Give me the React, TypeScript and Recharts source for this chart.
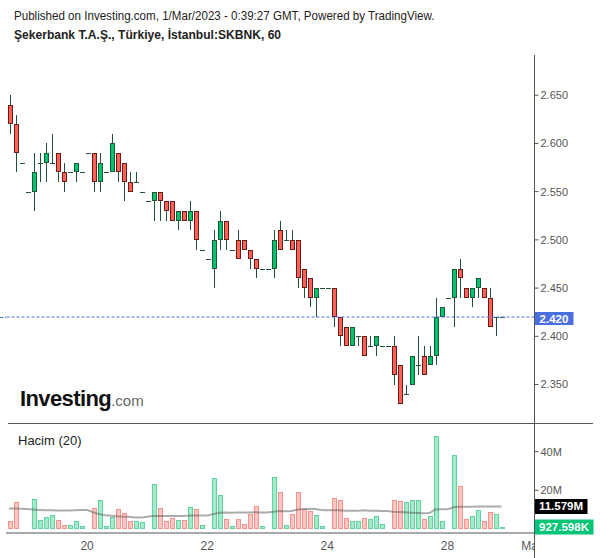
import React from 'react';
import { ComposedChart, Bar, Line, XAxis, YAxis, ReferenceLine } from 'recharts';

const FONT = '"Liberation Sans", Arial, Helvetica, sans-serif';

// Hourly candles (Feb 17 - Feb 28, 2023)
const opens = [
  2.64, 2.62, 2.58, 2.55, 2.55, 2.58, 2.58, 2.58, 2.59, 2.57,
  2.57, 2.57, 2.57, 2.59, 2.59, 2.56, 2.57, 2.57, 2.59, 2.58,
  2.56, 2.56, 2.55, 2.54, 2.54, 2.55, 2.54, 2.54, 2.52, 2.53,
  2.52, 2.53, 2.49, 2.48, 2.47, 2.50, 2.52, 2.49, 2.50, 2.50,
  2.49, 2.48, 2.47, 2.47, 2.47, 2.51, 2.50, 2.50, 2.50, 2.47,
  2.46, 2.44, 2.45, 2.45, 2.45, 2.42, 2.41, 2.39, 2.40, 2.40,
  2.39, 2.39, 2.39, 2.39, 2.39, 2.37, 2.34, 2.35, 2.37, 2.38,
  2.37, 2.38, 2.42, 2.44, 2.44, 2.47, 2.45, 2.44, 2.45, 2.45,
  2.44, 2.42, 2.42,
];
const highs = [
  2.65, 2.63, 2.58, 2.55, 2.59, 2.59, 2.60, 2.61, 2.59, 2.58,
  2.57, 2.58, 2.57, 2.59, 2.59, 2.59, 2.57, 2.61, 2.59, 2.58,
  2.57, 2.57, 2.55, 2.54, 2.55, 2.55, 2.54, 2.54, 2.53, 2.53,
  2.54, 2.53, 2.49, 2.48, 2.51, 2.53, 2.52, 2.49, 2.51, 2.50,
  2.49, 2.48, 2.47, 2.47, 2.51, 2.52, 2.51, 2.51, 2.50, 2.47,
  2.46, 2.45, 2.45, 2.45, 2.45, 2.42, 2.41, 2.41, 2.40, 2.40,
  2.40, 2.40, 2.39, 2.39, 2.40, 2.37, 2.35, 2.38, 2.40, 2.39,
  2.39, 2.44, 2.43, 2.44, 2.47, 2.48, 2.45, 2.45, 2.46, 2.45,
  2.45, 2.42, 2.42,
];
const lows = [
  2.61, 2.57, 2.58, 2.55, 2.53, 2.56, 2.56, 2.58, 2.56, 2.55,
  2.57, 2.56, 2.57, 2.59, 2.55, 2.55, 2.57, 2.57, 2.56, 2.54,
  2.55, 2.56, 2.55, 2.54, 2.52, 2.52, 2.52, 2.52, 2.51, 2.52,
  2.51, 2.49, 2.49, 2.48, 2.45, 2.49, 2.49, 2.49, 2.48, 2.49,
  2.47, 2.46, 2.47, 2.47, 2.46, 2.49, 2.50, 2.49, 2.45, 2.44,
  2.43, 2.42, 2.45, 2.45, 2.41, 2.39, 2.39, 2.39, 2.39, 2.38,
  2.39, 2.38, 2.39, 2.39, 2.35, 2.33, 2.34, 2.35, 2.36, 2.36,
  2.37, 2.37, 2.42, 2.44, 2.41, 2.44, 2.44, 2.43, 2.44, 2.44,
  2.41, 2.40, 2.42,
];
const closes = [
  2.62, 2.59, 2.58, 2.55, 2.57, 2.58, 2.59, 2.58, 2.57, 2.56,
  2.57, 2.58, 2.57, 2.59, 2.56, 2.58, 2.57, 2.60, 2.57, 2.56,
  2.55, 2.56, 2.55, 2.54, 2.55, 2.54, 2.53, 2.52, 2.53, 2.52,
  2.53, 2.50, 2.49, 2.48, 2.50, 2.52, 2.50, 2.49, 2.48, 2.49,
  2.48, 2.47, 2.47, 2.47, 2.50, 2.49, 2.50, 2.49, 2.46, 2.45,
  2.44, 2.45, 2.45, 2.45, 2.42, 2.40, 2.39, 2.41, 2.40, 2.38,
  2.39, 2.40, 2.39, 2.39, 2.36, 2.33, 2.34, 2.38, 2.37, 2.36,
  2.38, 2.42, 2.43, 2.44, 2.47, 2.46, 2.44, 2.45, 2.46, 2.44,
  2.41, 2.42, 2.42,
];
// Volume in millions
const volumes = [
  4.3, 13.7, 0.5, 0.2, 15.7, 4.7, 6.1, 7.3, 4.7, 2.2,
  2.2, 4.3, 1.2, 0.2, 11.0, 15.1, 1.5, 6.1, 10.4, 8.3,
  4.3, 4.3, 3.3, 0.2, 23.5, 11.0, 4.3, 5.4, 4.7, 4.7,
  11.5, 10.4, 2.1, 0.2, 26.6, 17.7, 5.2, 1.5, 5.2, 2.6,
  7.6, 12.0, 1.5, 0.2, 27.1, 19.0, 2.1, 7.8, 19.3, 10.4,
  9.2, 7.3, 1.2, 0.2, 15.8, 14.8, 5.4, 3.8, 4.3, 5.7,
  4.9, 6.8, 2.6, 0.2, 14.8, 14.2, 13.7, 14.8, 14.8, 4.9,
  6.8, 48.2, 3.8, 0.2, 38.3, 22.4, 4.9, 6.8, 9.9, 4.3,
  8.5, 7.8, 0.927598,
];
// Volume moving average (20), millions
const volumeSma = [
  10.5, 10.5, 10.4, 10.3, 10.0, 9.8, 9.6, 9.6, 9.5, 9.5,
  9.5, 9.6, 9.7, 9.7, 8.6, 7.6, 7.0, 6.8, 6.5, 6.3,
  6.2, 5.9, 5.8, 6.2, 6.6, 6.7, 6.6, 6.6, 6.6, 6.6,
  6.9, 6.9, 6.9, 6.9, 7.6, 8.3, 8.4, 8.3, 8.4, 8.4,
  8.5, 8.6, 8.5, 8.5, 8.8, 9.2, 9.1, 9.2, 9.9, 10.3,
  10.4, 10.3, 9.8, 9.6, 9.6, 9.6, 9.4, 9.3, 9.3, 9.6,
  9.4, 9.3, 9.2, 9.2, 8.8, 8.7, 8.6, 8.3, 8.2, 8.1,
  8.2, 10.0, 10.1, 10.1, 11.2, 11.5, 11.5, 11.5, 11.6, 11.6,
  11.6, 11.6, 11.579,
];
const emptyFutureSlots = 5;
const priceTicks = [2.35, 2.4, 2.45, 2.5, 2.55, 2.6, 2.65];
const volumeTicks = [20, 40];
const dayTickSlots = [13, 33, 53, 73, 87];
const dayTickLabels = ['20', '22', '24', '28', 'Mar'];

const PRICE_DOMAIN: [number, number] = [2.3101, 2.6917];
const VOLUME_DOMAIN: [number, number] = [-2.18, 54.89];

const UP_FILL = '#00c46b';
const UP_STROKE = '#1c5a3a';
const DOWN_FILL = '#ff6058';
const DOWN_STROKE = '#6a1b18';
const WICK = '#1f5238';
const VOL_UP_FILL = '#a6ebc9';
const VOL_UP_STROKE = '#5fd3a0';
const VOL_DOWN_FILL = '#ffc5c1';
const VOL_DOWN_STROKE = '#f6938d';
const AXIS = '#555555';

type Row = {
  i: number;
  o?: number;
  h?: number;
  l?: number;
  c?: number;
  wick?: [number, number];
  body?: [number, number];
  vol?: number;
  sma?: number;
  up?: boolean;
};

const rows: Row[] = Array.from({ length: opens.length + emptyFutureSlots }, (_, i) => {
  if (i >= opens.length) return { i };
  const o = opens[i];
  const c = closes[i];
  return {
    i,
    o,
    h: highs[i],
    l: lows[i],
    c,
    wick: [lows[i], highs[i]],
    body: [Math.min(o, c), Math.max(o, c)],
    vol: volumes[i],
    sma: volumeSma[i],
    up: c >= o,
  };
});

const lastClose = closes[closes.length - 1];
const lastVolume = volumes[volumes.length - 1];
const lastSma = volumeSma[volumeSma.length - 1];

const WickShape = (props: any) => {
  const { x, y, width, height, payload } = props;
  if (!payload || payload.o == null || height == null) return <g />;
  const top = Math.min(y, y + height);
  const h = Math.abs(height);
  if (h < 0.5) return <g />;
  const cx = Math.round(x + width / 2) + 0.5;
  return <line x1={cx} x2={cx} y1={Math.round(top)} y2={Math.round(top + h)} stroke={WICK} strokeWidth={1} />;
};

const BodyShape = (props: any) => {
  const { x, y, width, height, payload } = props;
  if (!payload || payload.o == null || y == null) return <g />;
  const cx = Math.round(x + width / 2) + 0.5;
  const top = Math.min(y, y + (height || 0));
  const h = Math.abs(height || 0);
  if (h < 1) {
    const yy = Math.round(top) + 0.5;
    return <line x1={cx - 2.5} x2={cx + 2.5} y1={yy} y2={yy} stroke={WICK} strokeWidth={1} />;
  }
  const y1 = Math.round(top) + 0.5;
  const y2 = Math.round(top + h) - 0.5;
  const up = payload.up;
  return (
    <rect
      x={cx - 2}
      y={y1}
      width={4}
      height={Math.max(1, y2 - y1)}
      fill={up ? UP_FILL : DOWN_FILL}
      stroke={up ? UP_STROKE : DOWN_STROKE}
      strokeWidth={1}
    />
  );
};

const VolumeShape = (props: any) => {
  const { x, y, width, height, payload } = props;
  if (!payload || payload.vol == null || y == null) return <g />;
  const cx = Math.round(x + width / 2) + 0.5;
  const top = Math.min(y, y + height);
  const h = Math.abs(height);
  const y1 = Math.round(top) + 0.5;
  const y2 = Math.round(top + h) - 0.5;
  const up = payload.up;
  return (
    <rect
      x={cx - 2}
      y={Math.min(y1, y2)}
      width={4}
      height={Math.max(0, y2 - y1)}
      fill={up ? VOL_UP_FILL : VOL_DOWN_FILL}
      stroke={up ? VOL_UP_STROKE : VOL_DOWN_STROKE}
      strokeWidth={1}
    />
  );
};

const makeTag = (text: string, bg: string, w: number, h: number, dy: number) => (props: any) => {
  const vb = props.viewBox || {};
  const x = (vb.x || 0) + (vb.width || 0);
  const y = vb.y || 0;
  return (
    <g>
      <rect x={x} y={y - h / 2 + dy} width={w} height={h} fill={bg} />
      <text
        x={x + w / 2}
        y={y + dy + 4}
        textAnchor="middle"
        fill="#ffffff"
        fontSize={11.5}
        fontWeight="bold"
        fontFamily={FONT}
      >
        {text}
      </text>
    </g>
  );
};

const PriceTag = makeTag(lastClose.toFixed(3), '#4a6fe0', 39, 13, 1.5);
const SmaTag = makeTag(`${lastSma.toFixed(3)}M`, '#000000', 53, 15, 0);
const VolTag = makeTag(`${(lastVolume * 1000).toFixed(3)}K`, '#00c476', 59, 15, 0);

const DayTick = (props: any) => {
  const { x, y, payload } = props;
  const idx = dayTickSlots.indexOf(payload.value);
  if (idx < 0) return <g />;
  return (
    <g>
      <defs>
        <clipPath id={`dayclip${idx}`}>
          <rect x={0} y={0} width={534} height={200} />
        </clipPath>
      </defs>
      <text
        x={x}
        y={y}
        dy="0.71em"
        textAnchor="middle"
        fontSize={12}
        fill={AXIS}
        fontFamily={FONT}
        clipPath={`url(#dayclip${idx})`}
      >
        {dayTickLabels[idx]}
      </text>
    </g>
  );
};

export default function App() {
  return (
    <div
      style={{
        position: 'absolute',
        left: 0,
        top: 0,
        width: 600,
        height: 558,
        background: '#ffffff',
        overflow: 'hidden',
        fontFamily: FONT,
      }}
    >
      <div style={{ position: 'absolute', left: 0, top: 0 }}>
        <ComposedChart width={600} height={423} data={rows} margin={{ top: 55, right: 0, bottom: 0, left: 6 }}>
          <XAxis xAxisId="w" dataKey="i" type="category" hide />
          <XAxis xAxisId="b" dataKey="i" type="category" hide />
          <YAxis
            yAxisId="p"
            orientation="right"
            width={65.5}
            domain={PRICE_DOMAIN}
            ticks={priceTicks}
            allowDataOverflow
            tickFormatter={(v: number) => v.toFixed(3)}
            tick={{ fontSize: 11, fill: AXIS, fontFamily: FONT }}
            tickSize={4}
            axisLine={{ stroke: AXIS }}
            tickLine={{ stroke: AXIS }}
          />
          <ReferenceLine
            xAxisId="w"
            yAxisId="p"
            y={lastClose}
            stroke="#4a6fe0"
            strokeDasharray="3 2"
            label={PriceTag}
          />
          <Bar xAxisId="w" yAxisId="p" dataKey="wick" barSize={1} shape={WickShape} isAnimationActive={false} />
          <Bar xAxisId="b" yAxisId="p" dataKey="body" barSize={5} shape={BodyShape} isAnimationActive={false} />
        </ComposedChart>
      </div>

      <div style={{ position: 'absolute', left: 0, top: 423 }}>
        <ComposedChart width={600} height={135} data={rows} margin={{ top: 0, right: 0, bottom: 0, left: 6 }}>
          <XAxis
            dataKey="i"
            type="category"
            height={25}
            ticks={dayTickSlots}
            interval={0}
            tick={DayTick}
            tickLine={false}
            axisLine={{ stroke: AXIS }}
          />
          <YAxis
            orientation="right"
            width={65.5}
            domain={VOLUME_DOMAIN}
            ticks={volumeTicks}
            allowDataOverflow
            tickFormatter={(v: number) => `${v}M`}
            tick={{ fontSize: 11, fill: AXIS, fontFamily: FONT }}
            tickSize={4}
            axisLine={{ stroke: AXIS }}
            tickLine={{ stroke: AXIS }}
          />
          <Bar dataKey="vol" barSize={5} shape={VolumeShape} isAnimationActive={false} />
          <Line
            dataKey="sma"
            type="linear"
            stroke="rgba(90,90,90,0.5)"
            strokeWidth={2}
            dot={false}
            isAnimationActive={false}
          />
          <ReferenceLine y={lastSma} stroke="none" label={SmaTag} />
          <ReferenceLine y={lastVolume} stroke="none" label={VolTag} />
        </ComposedChart>
      </div>

      <div style={{ position: 'absolute', left: 8, top: 423, width: 585, height: 1, background: AXIS }} />
      <div style={{ position: 'absolute', left: 534, top: 533, width: 1, height: 25, background: AXIS }} />
      <div
        style={{
          position: 'absolute',
          left: 0,
          top: 317,
          width: 6,
          height: 1,
          backgroundImage: 'linear-gradient(to right, #4a6fe0 3px, transparent 3px)',
          backgroundSize: '5px 1px',
        }}
      />

      <div
        style={{
          position: 'absolute',
          left: 14,
          top: 10,
          fontSize: 12.5,
          lineHeight: '13px',
          color: '#222',
          whiteSpace: 'nowrap',
          transform: 'scaleX(0.927)',
          transformOrigin: '0 0',
        }}
      >
        Published on Investing.com, 1/Mar/2023 - 0:39:27 GMT, Powered by TradingView.
      </div>
      <div
        style={{
          position: 'absolute',
          left: 14,
          top: 29,
          fontSize: 12.5,
          lineHeight: '13px',
          fontWeight: 'bold',
          color: '#222',
          whiteSpace: 'nowrap',
          transform: 'scaleX(0.966)',
          transformOrigin: '0 0',
        }}
      >
        Şekerbank T.A.Ş., Türkiye, İstanbul:SKBNK, 60
      </div>

      <div
        style={{
          position: 'absolute',
          left: 20,
          top: 386,
          display: 'flex',
          alignItems: 'baseline',
          whiteSpace: 'nowrap',
        }}
      >
        <span style={{ fontSize: 22, fontWeight: 'bold', color: '#111', letterSpacing: -0.6 }}>Investing</span>
        <span style={{ fontSize: 15, color: '#666' }}>.com</span>
      </div>

      <div
        style={{
          position: 'absolute',
          left: 18,
          top: 434,
          fontSize: 13,
          lineHeight: '13px',
          color: '#222',
          whiteSpace: 'nowrap',
        }}
      >
        Hacim (20)
      </div>
    </div>
  );
}
